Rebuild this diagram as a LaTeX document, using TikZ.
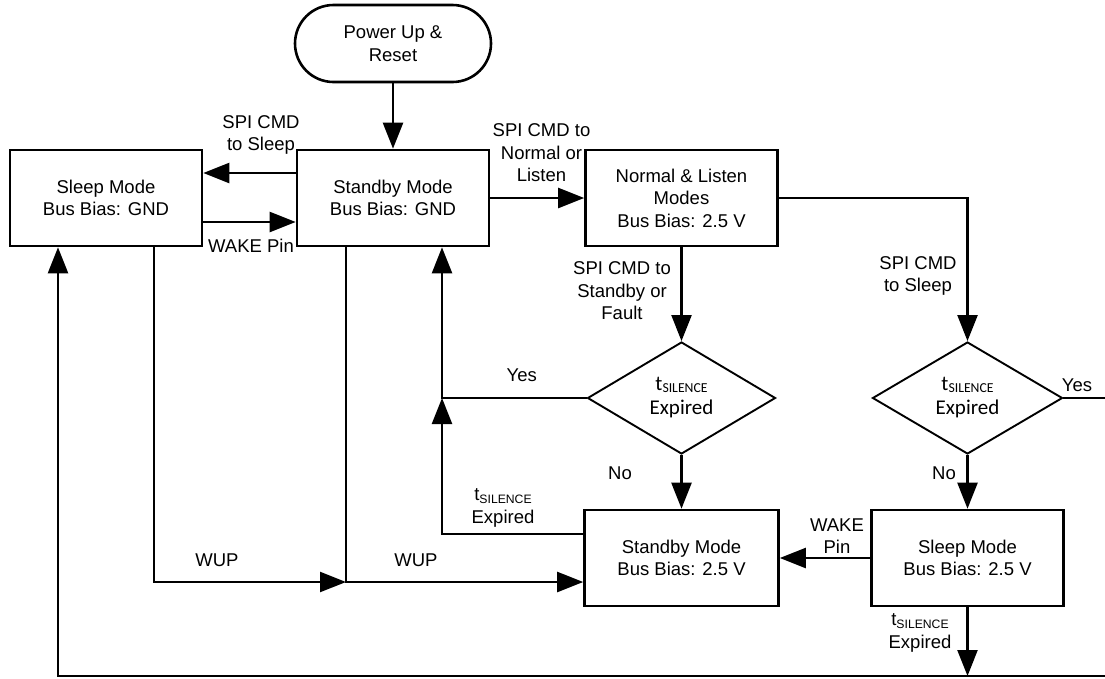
\documentclass[tikz,border=0pt]{standalone}
\usepackage{fontspec}
\setmainfont{Liberation Sans}
\newfontfamily\carlito{Carlito}
\usetikzlibrary{arrows.meta,shapes.geometric,shapes.misc}
\newcommand\tsil{t\raisebox{-2.5pt}{\fontsize{12.2}{12.2}\selectfont SILENCE}}
\newcommand\tsilc{{\carlito t\raisebox{-2pt}{\fontsize{13.7}{13.7}\selectfont SILENCE}}}
\begin{document}
\begin{tikzpicture}[x=1pt,y=-1pt,
  font=\fontsize{18.5}{22.5}\selectfont,
  box/.style={draw,line width=2.6pt,minimum width=192pt,minimum height=96pt,align=center,inner sep=0pt},
  dec/.style={draw,diamond,line width=1.9pt,minimum width=188pt,minimum height=112pt,inner sep=0pt,align=center,font=\carlito\fontsize{21}{24}\selectfont},
  arr/.style={line width=2.3pt,-{Triangle[length=26pt,width=20pt]}},
  ln/.style={line width=2.3pt},
  lbl/.style={align=center,inner sep=0pt}]
\useasboundingbox (0,0) rectangle (1105,678);

\node[box, rounded rectangle, minimum width=196pt, minimum height=77pt] (power) at (393,43.5) {Power Up \&\\Reset};
\node[box] (sleepG) at (106,198) {Sleep Mode\\Bus Bias: GND};
\node[box] (standG) at (393,198) {Standby Mode\\Bus Bias: GND};
\node[box] (normal) at (681.5,198) {Normal \& Listen\\Modes\\Bus Bias: 2.5 V};
\node[dec] (d1) at (681.5,398) {\tsilc\\Expired};
\node[dec, minimum width=190pt] (d2) at (967.5,398) {\tsilc\\Expired};
\node[box, minimum width=194pt] (stand25) at (681.5,558) {Standby Mode\\Bus Bias: 2.5 V};
\node[box] (sleep25) at (967.5,558) {Sleep Mode\\Bus Bias: 2.5 V};

\coordinate (j) at (442,398);
\coordinate (w0) at (154,582);
\coordinate (w1) at (346,582);
\coordinate (bR) at (1106,676);
\coordinate (bL) at (58,676);
\coordinate (yR) at (1106,398);

\draw[arr] (power.south) -- (standG.north);
\draw[arr] ([yshift=25pt]standG.west) -- ([yshift=25pt]sleepG.east);
\draw[arr] ([yshift=-24pt]sleepG.east) -- ([yshift=-24pt]standG.west);
\draw[arr] (standG.east) -- (normal.west);
\draw[arr] (normal.east) -| (d2.north);
\draw[arr] (normal.south) -- (d1.north);
\draw[arr] (d1.south) -- (stand25.north);
\draw[arr] (d2.south) -- (sleep25.north);
\draw[arr] (d1.west) -| (standG.south -| j);
\draw[arr] ([yshift=24pt]stand25.west) -| (j);
\draw[arr] (sleepG.south -| w0) |- (w1);
\draw[arr] (standG.south -| w1) |- (stand25.west |- w1);
\draw[arr] (sleep25.west) -- (stand25.east);
\draw[arr] (sleep25.south) -- (sleep25.south |- bR);
\draw[arr] (bR) -- (bL) -- (sleepG.south -| bL);
\draw[ln] (d2.east) -- (yR);

\node[lbl] (l1) at (261,135) {SPI CMD\\to Sleep};
\node[lbl] (l2) at (251,246) {WAKE Pin};
\node[lbl] (l3) at (541.5,153) {SPI CMD to\\Normal or\\Listen};
\node[lbl] (l4) at (622,291) {SPI CMD to\\Standby or\\Fault};
\node[lbl] (l5) at (918,276) {SPI CMD\\to Sleep};
\node[lbl] (l6) at (521.7,375) {Yes};
\node[lbl] (l7) at (1077,385) {Yes};
\node[lbl] (l8) at (620,473) {No};
\node[lbl] (l9) at (944,473) {No};
\node[lbl] (l10) at (503,508) {\tsil\\Expired};
\node[lbl] (l11) at (217,560) {WUP};
\node[lbl] (l12) at (416,560) {WUP};
\node[lbl] (l13) at (837,536) {WAKE\\Pin};
\node[lbl] (l14) at (920,633) {\tsil\\Expired};
\end{tikzpicture}
\end{document}
